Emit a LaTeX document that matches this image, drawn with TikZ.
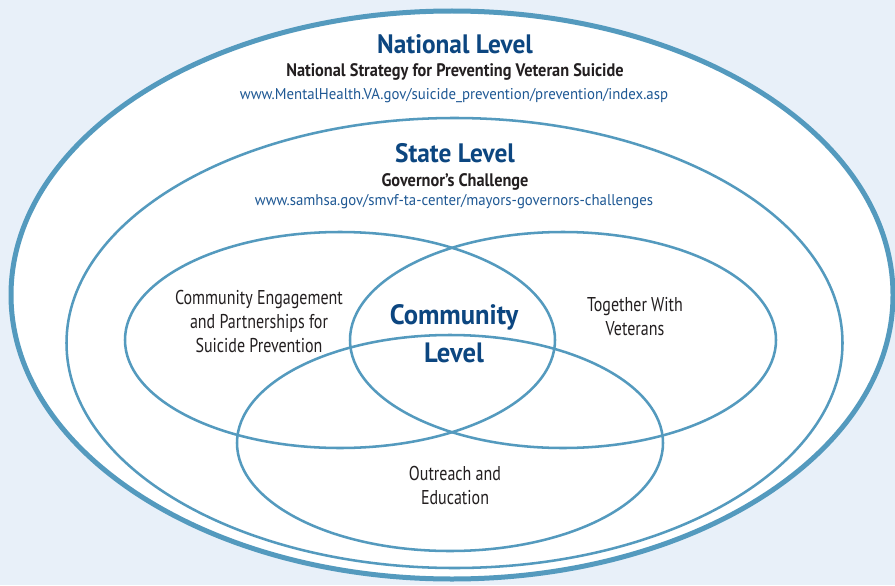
\documentclass[tikz,border=0pt]{standalone}
\usepackage{fontspec}
\setmainfont{PT Sans}
\newfontfamily\titlefont{PT Sans}[FakeStretch=0.95]
\newfontfamily\subfont{PT Sans}[FakeStretch=0.90]
\newfontfamily\areafont{PT Sans}[FakeStretch=0.80]
\definecolor{bgblue}{RGB}{232,240,249}
\definecolor{ringblue}{RGB}{84,154,190}
\definecolor{titleblue}{RGB}{12,70,128}
\definecolor{linkblue}{RGB}{30,88,148}
\definecolor{bodygray}{RGB}{35,31,32}

\tikzset{
  ring/.style={draw=ringblue, line width=1.9pt},
  title/.style={font=\titlefont\bfseries\fontsize{20}{22}\selectfont, text=titleblue},
  subtitle/.style={font=\subfont\bfseries\fontsize{13.6}{15}\selectfont, text=bodygray},
  weblink/.style={font=\titlefont\fontsize{11.7}{14}\selectfont, text=linkblue},
  area/.style={font=\areafont\fontsize{15}{18}\selectfont, text=bodygray, align=center},
}

\begin{document}
\begin{tikzpicture}[x=0.75pt, y=-0.75pt]
  \fill[bgblue] (0,0) rectangle (895,585);
  \useasboundingbox (0,0) rectangle (895,585);

  % levels
  \draw[ring, fill=white, line width=3.75pt] (452,295) ellipse [x radius=441, y radius=284];
  \draw[ring] (454.5,343) ellipse [x radius=388, y radius=225];

  % community circles
  \draw[ring] (340,340) ellipse [x radius=215, y radius=108];
  \draw[ring] (563,340) ellipse [x radius=213, y radius=108];
  \draw[ring] (450,443) ellipse [x radius=213, y radius=108];

  \node[title] (national) at (455,44) {National Level};
  \node[subtitle] (strategy) at (455,72) {National Strategy for Preventing Veteran Suicide};
  \node[weblink] (valink) at (454,96) {www.MentalHealth.VA.gov/suicide\_prevention/prevention/index.asp};

  \node[title] (state) at (455,153) {State Level};
  \node[subtitle] (challenge) at (455,182) {Governor’s Challenge};
  \node[weblink] (samhsa) at (454,202) {www.samhsa.gov/smvf-ta-center/mayors-governors-challenges};

  \node[title, align=center, font=\titlefont\bfseries\fontsize{21}{28.5}\selectfont] (community) at (454,334) {Community\\Level};

  \node[area] (engage) at (259,321) {Community Engagement\\and Partnerships for\\Suicide Prevention};
  \node[area] (together) at (635,317) {Together With\\Veterans};
  \node[area] (outreach) at (455,485) {Outreach and\\Education};
\end{tikzpicture}
\end{document}
